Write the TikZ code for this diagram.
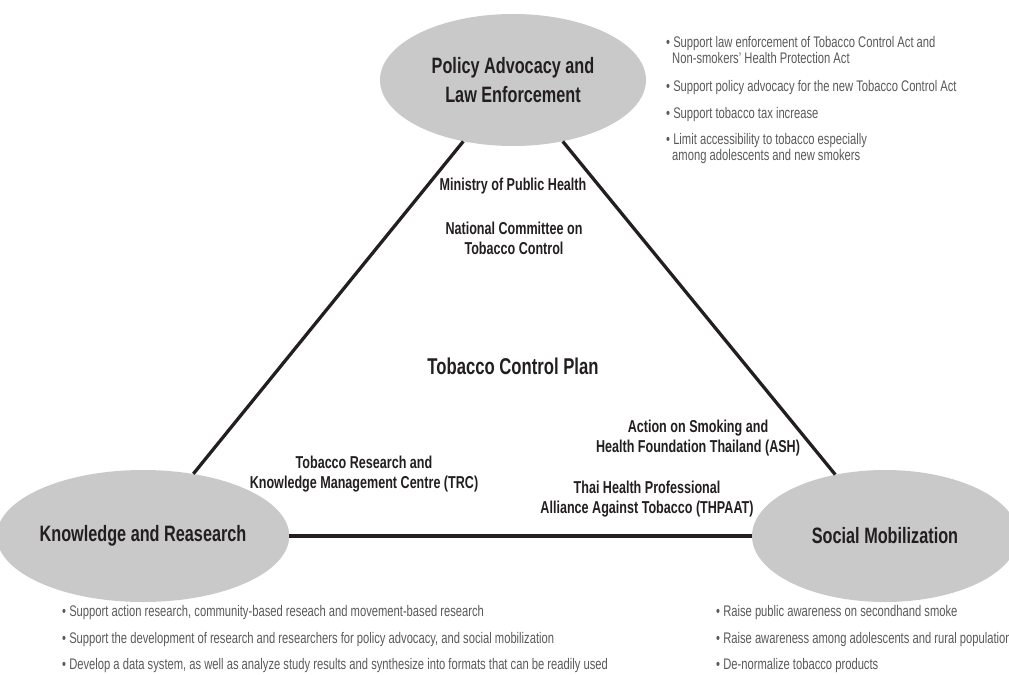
\documentclass[tikz,border=0pt]{standalone}
\usepackage{fontspec}
\setmainfont{Liberation Sans}[FakeStretch=0.73]
\usepackage{xcolor}
\usepackage{tikz}
\usetikzlibrary{shapes.geometric}
\definecolor{ovalgray}{HTML}{C9C9CA}
\definecolor{labelink}{HTML}{231F20}
\definecolor{bulletink}{HTML}{58595B}

\begin{document}
\begin{tikzpicture}[x=0.3mm,y=-0.3mm,
	area/.style={ellipse,fill=ovalgray,minimum width=79.8mm,minimum height=39.6mm,inner sep=0pt,align=center,text=labelink,font=\fontsize{19}{24}\selectfont\bfseries},
	actor/.style={align=center,text=labelink,inner sep=0pt,font=\fontsize{14.7}{17}\selectfont\bfseries},
	point/.style={anchor=west,align=left,text=bulletink,inner sep=0pt,font=\fontsize{13.1}{13.7}\selectfont},
	link/.style={line width=2.8pt,labelink}]
		\clip (0,0) rectangle (1009,675);
		% the three areas
		\node[area] (pol) at (513,80) {Policy Advocacy and\\Law Enforcement};
		\node[area] (know) at (143,536) {Knowledge and Reasearch};
		\node[area] (soc) at (885,536) {Social Mobilization};
		\draw[link] (pol.231) -- (know.51);
		\draw[link] (pol.309) -- (soc.129);
		\draw[link] (know.east) -- (soc.west);
		% actors inside the triangle
		\node[actor] (moph) at (513,186) {Ministry of Public Health};
		\node[actor] (ntc) at (514,238) {National Committee on\\Tobacco Control};
		\node[actor,font=\fontsize{19.5}{22}\selectfont\bfseries] (plan) at (513,366) {Tobacco Control Plan};
		\node[actor] (trc) at (364,474) {Tobacco Research and\\Knowledge Management Centre (TRC)};
		\node[actor] (ash) at (698,438) {Action on Smoking and\\Health Foundation Thailand (ASH)};
		\node[actor] (thpaat) at (647,499) {Thai Health Professional\\Alliance Against Tobacco (THPAAT)};
		% policy tasks
		\node[point] (pol1) at (666,50) {\textbullet\ Support law enforcement of Tobacco Control Act and\\\hspace*{1.8mm}Non-smokers' Health Protection Act};
		\node[point] (pol2) at (666,88) {\textbullet\ Support policy advocacy for the new Tobacco Control Act};
		\node[point] (pol3) at (666,115) {\textbullet\ Support tobacco tax increase};
		\node[point] (pol4) at (666,149) {\textbullet\ Limit accessibility to tobacco especially\\\hspace*{1.8mm}among adolescents and new smokers};
		% research tasks
		\node[point] (know1) at (62,613) {\textbullet\ Support action research, community-based reseach and movement-based research};
		\node[point] (know2) at (62,640) {\textbullet\ Support the development of research and researchers for policy advocacy, and social mobilization};
		\node[point] (know3) at (62,666) {\textbullet\ Develop a data system, as well as analyze study results and synthesize into formats that can be readily used};
		% mobilization tasks
		\node[point] (soc1) at (716,613) {\textbullet\ Raise public awareness on secondhand smoke};
		\node[point] (soc2) at (716,640) {\textbullet\ Raise awareness among adolescents and rural population};
		\node[point] (soc3) at (716,666) {\textbullet\ De-normalize tobacco products};
	\end{tikzpicture}
\end{document}
